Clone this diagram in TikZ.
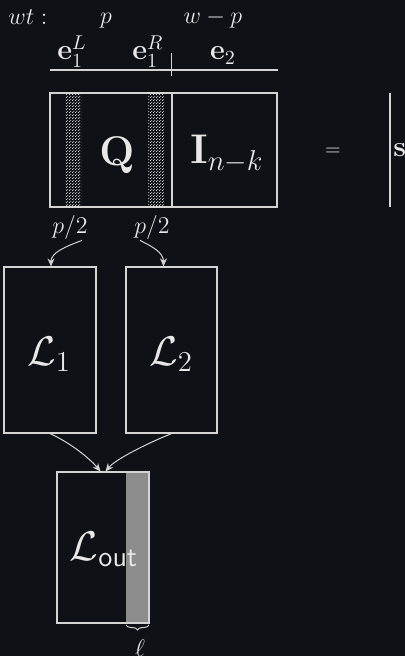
\documentclass[tikz,border=0pt]{standalone}
\usepackage{amsmath,amssymb}
\usetikzlibrary{patterns,decorations.pathreplacing,arrows.meta}
\definecolor{bg}{HTML}{0E1116}
\definecolor{fg}{HTML}{E8E8E8}
\definecolor{ln}{HTML}{D4D4D4}
\definecolor{strip}{HTML}{8C8C8C}
\pgfdeclarepatternformonly{finedots}{\pgfpoint{0pt}{0pt}}{\pgfpoint{1.5pt}{1.5pt}}{\pgfpoint{1.5pt}{1.5pt}}{\pgfpathcircle{\pgfpoint{0.375pt}{0.375pt}}{0.32pt}\pgfpathcircle{\pgfpoint{1.125pt}{1.125pt}}{0.32pt}\pgfusepath{fill}}
\begin{document}
\begin{tikzpicture}[x=0.5pt,y=-0.5pt, color=fg,
  lbl/.style={inner sep=0pt, text=fg},
  boxnode/.style={draw=ln, line width=0.6pt, inner sep=0pt},
  thinline/.style={draw=ln, line width=0.6pt},
  arr/.style={draw=ln, line width=0.5pt, -{Stealth[length=4pt,width=3.5pt]}}]
\useasboundingbox (0,0) rectangle (405,656);
\fill[bg] (0,0) rectangle (405,656);
% header
\node[lbl, anchor=base west, font=\large] (wt) at (8,25) {$wt:$};
\node[lbl, anchor=base, font=\large] (wp1) at (106,24) {$p$};
\node[lbl, anchor=base, font=\large] (wp2) at (213,24) {$w-p$};
\node[lbl, anchor=base, font=\Large] (e1L) at (72,60) {$\mathbf{e}_1^L$};
\node[lbl, anchor=base, font=\Large] (e1R) at (148,60) {$\mathbf{e}_1^R$};
\node[lbl, anchor=base, font=\Large] (e2) at (223,60) {$\mathbf{e}_2$};
\coordinate (ul) at (50,70); \coordinate (ur) at (278,70);
\draw[thinline] (ul) -- (ur);
\coordinate (tt) at (171,53); \coordinate (tb) at (171,76);
\draw[thinline, line width=0.5pt] (tt) -- (tb);
% matrix
\fill[pattern=finedots, pattern color=white] (65,93) rectangle (81,207);
\fill[pattern=finedots, pattern color=white] (148,93) rectangle (164,207);
\node[boxnode, minimum width=113.5pt, minimum height=57pt] (H) at (163.5,150) {};
\coordinate (dt) at (172,93); \coordinate (db) at (172,207);
\draw[thinline] (dt) -- (db);
\node[lbl, anchor=base, font=\huge] (Q) at (117,166) {$\mathbf{Q}$};
\node[lbl, anchor=base, font=\huge] (I) at (227,164) {$\mathbf{I}_{n-k}$};
\node[lbl] (eq) at (333,152) {$=$};
\coordinate (st) at (390,93); \coordinate (sb) at (390,207);
\draw[thinline] (st) -- (sb);
\node[lbl, anchor=base west, font=\Large] (s) at (393,157) {$\mathbf{s}$};
% halves
\node[lbl, font=\large] (h1) at (70,228) {$p/2$};
\node[lbl, font=\large] (h2) at (152,228) {$p/2$};
\node[boxnode, minimum width=46pt, minimum height=83pt] (L1) at (50,350) {};
\node[boxnode, minimum width=45.5pt, minimum height=83pt] (L2) at (171.5,350) {};
\node[lbl, anchor=base, font=\huge] (L1t) at (49,365) {$\mathcal{L}_1$};
\node[lbl, anchor=base, font=\huge] (L2t) at (171,365) {$\mathcal{L}_2$};
\draw[arr] ([xshift=-3pt]h1.south east) .. controls +(-16,6) and +(0,-14) .. ([xshift=0.5pt]L1.north);
\draw[arr] ([xshift=3pt]h2.south west) .. controls +(12,6) and +(0,-14) .. ([xshift=-4pt]L2.north);
% output list
\fill[strip] (126,472) rectangle (149,623);
\node[boxnode, minimum width=46pt, minimum height=75.5pt] (Lo) at (103,547.5) {};
\node[lbl, anchor=base, font=\huge] (Lot) at (104,560) {$\mathcal{L}_{\mathsf{out}}$};
\draw[arr] (L1.south) .. controls +(22,10) and +(-10,-12) .. ([xshift=-1.25pt]Lo.north);
\draw[arr] (L2.south) .. controls +(-25,10) and +(10,-12) .. ([xshift=1.25pt]Lo.north);
\coordinate (bl) at (126,625); \coordinate (br) at (149,625);
\draw[draw=ln, line width=0.5pt, decorate, decoration={brace, mirror, amplitude=2.5pt}] (bl) -- (br);
\node[lbl, anchor=base, font=\large] (ell) at (140,656) {$\ell$};
\end{tikzpicture}
\end{document}
